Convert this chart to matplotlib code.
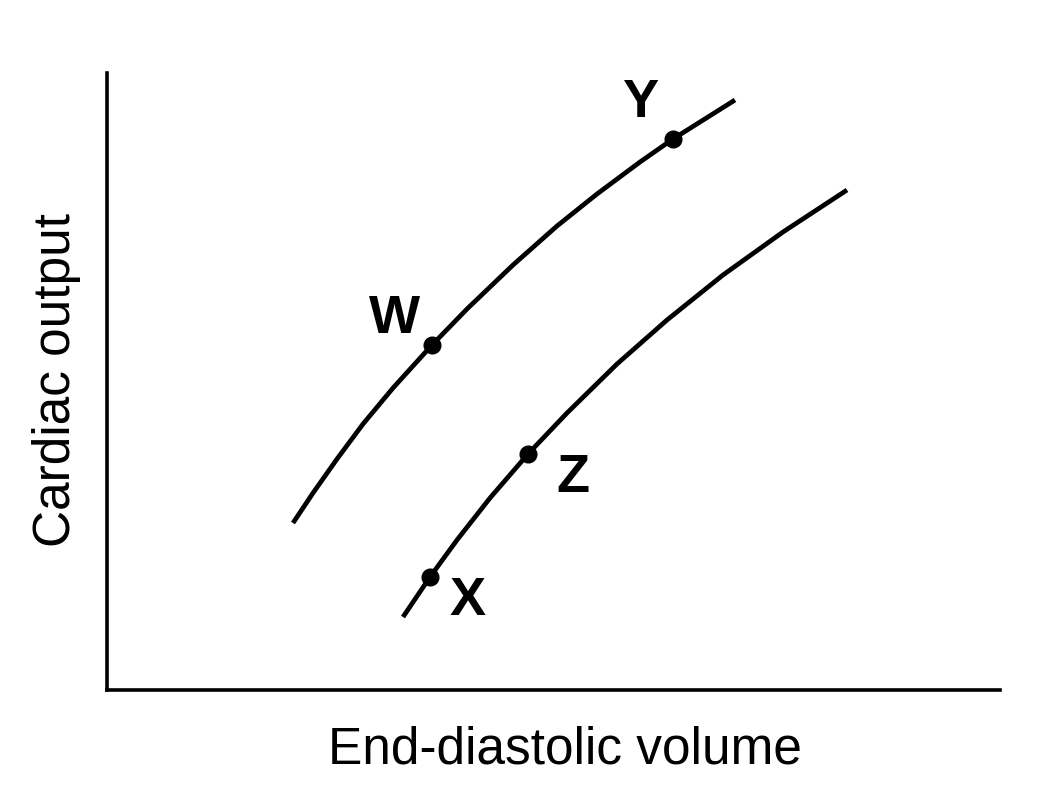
import matplotlib
matplotlib.use("Agg")
import matplotlib.pyplot as plt

plt.rcParams['font.family'] = ['Liberation Sans', 'DejaVu Sans']

# curve points (axis units, origin at the corner of the axes)
upper_x = [186, 206, 230, 256, 286, 325, 360, 406, 450, 490, 533, 566, 628]
upper_y = [167, 197, 231, 266, 302, 345, 381, 425, 464, 496, 528, 551, 590]
lower_x = [296, 323, 350, 383, 421, 460, 510, 560, 616, 676, 740]
lower_y = [73, 113, 150, 192, 236, 277, 326, 370, 415, 458, 500]

# labelled points
pt_names = ['W', 'Y', 'X', 'Z']
pt_x = [325, 566, 323, 421]
pt_y = [345, 551, 113, 236]
lab_x = [288, 533, 361, 466]
lab_y = [371, 587, 89, 212]

fig = plt.figure(figsize=(10.38, 7.96), dpi=100)
ax = fig.add_axes([107/1038, (796-690)/796, (1000-107)/1038, (690-73)/796])
ax.set_xlim(0, 893)
ax.set_ylim(0, 617)

ax.plot(upper_x, upper_y, color='black', lw=3.4, solid_capstyle='butt', solid_joinstyle='round')
ax.plot(lower_x, lower_y, color='black', lw=3.4, solid_capstyle='butt', solid_joinstyle='round')
ax.plot(pt_x, pt_y, 'o', color='black', ms=12)
for n, x, y in zip(pt_names, lab_x, lab_y):
    ax.text(x, y, n, fontsize=39, fontweight='bold', ha='center', va='center')

for s in ['top', 'right']:
    ax.spines[s].set_visible(False)
for s in ['left', 'bottom']:
    ax.spines[s].set_linewidth(2.6)
ax.set_xticks([])
ax.set_yticks([])

fig.text(565/1038, 1-750/796, 'End-diastolic volume', fontsize=37, ha='center', va='center')
fig.text(57/1038, 1-380/796, 'Cardiac output', fontsize=37, ha='center', va='center', rotation=90)

fig.savefig('out.png', dpi=100)
